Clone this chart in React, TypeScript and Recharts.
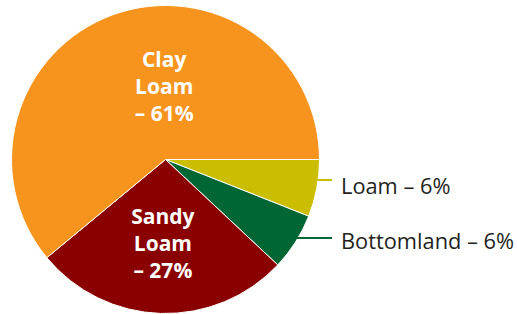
import { PieChart, Pie, Cell } from "recharts";

const soils = ["Loam", "Bottomland", "Sandy Loam", "Clay Loam"];
const shares = [6, 6, 27, 61];
const colors = ["#CBBE00", "#006633", "#8A0000", "#F7941D"];

const data = soils.map((name, i) => ({ name, value: shares[i] }));

const CX = 165.5;
const CY = 159.5;
const R = 154;
const RAD = Math.PI / 180;

// inside labels: big slices get stacked white text
function InsideLabel(props: any) {
  const { name, value, midAngle, index } = props;
  const words = name.split(" ");
  const lines = [...words, `– ${value}%`];
  if (value < 20) return <OutsideLabel {...props} />;
  // the biggest slice reads better straight above the centre
  const angle = index === 3 ? 91 : midAngle;
  const dist = index === 3 ? 74 : 84;
  const x = CX + dist * Math.cos(-angle * RAD);
  const y = CY + dist * Math.sin(-angle * RAD);
  const lh = 27;
  const top = y - ((lines.length - 1) * lh) / 2;
  return (
    <text
      x={x}
      y={top}
      fill="#fff"
      textAnchor="middle"
      dominantBaseline="central"
      fontFamily="'Open Sans', sans-serif"
      fontWeight={700}
      fontSize={21}
    >
      {lines.map((l, i) => (
        <tspan key={i} x={x} y={top + i * lh}>
          {l}
        </tspan>
      ))}
    </text>
  );
}

function OutsideLabel(props: any) {
  const { name, value, index } = props;
  const y = index === 0 ? 180 : 238;
  const ty = index === 0 ? 185 : 240;
  const x0 = CX + Math.sqrt(R * R - (y - CY) * (y - CY)) - 1;
  return (
    <g>
      <line x1={x0} y1={y} x2={332} y2={y} stroke={colors[index]} strokeWidth={2} />
      <text
        x={341}
        y={ty}
        fill="#231f20"
        dominantBaseline="central"
        fontFamily="'Open Sans', sans-serif"
        fontSize={21.8}
      >
        {`${name} – ${value}%`}
      </text>
    </g>
  );
}

export default function App() {
  return (
    <div style={{ position: "absolute", left: 0, top: 0, width: 517, height: 314, background: "#fff" }}>
      <PieChart width={517} height={314} margin={{ top: 0, right: 0, bottom: 0, left: 0 }}>
        <Pie
          data={data}
          dataKey="value"
          nameKey="name"
          cx={CX}
          cy={CY}
          outerRadius={R}
          startAngle={0}
          endAngle={-360}
          stroke="#fff"
          strokeWidth={1}
          labelLine={false}
          label={InsideLabel}
          isAnimationActive={false}
        >
          {data.map((d, i) => (
            <Cell key={d.name} fill={colors[i]} />
          ))}
        </Pie>
      </PieChart>
    </div>
  );
}
